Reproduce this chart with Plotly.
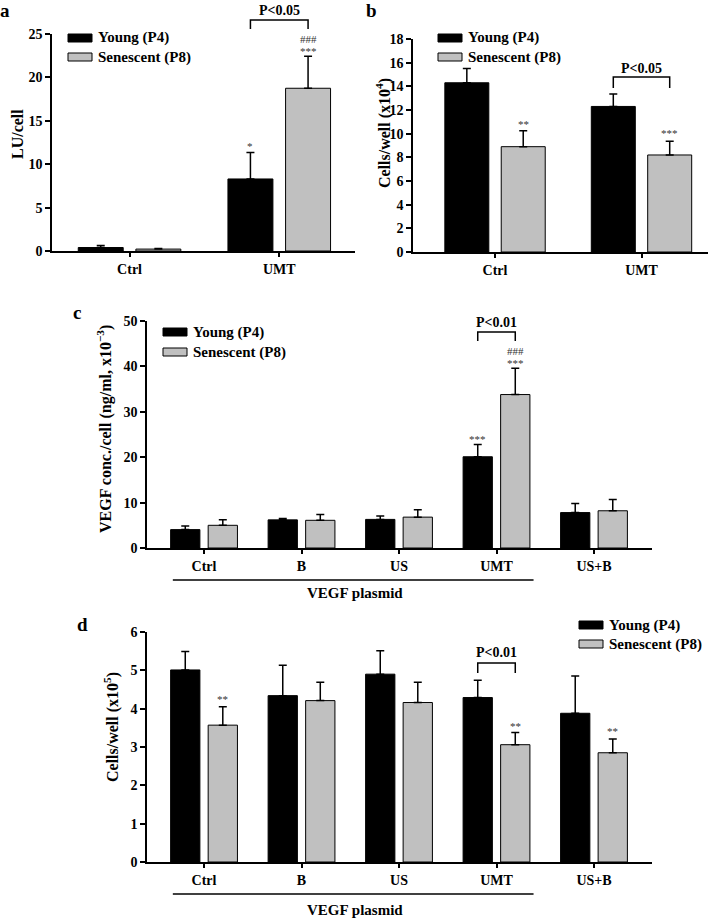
import plotly.graph_objects as go

W, H = 717, 920
FONT = "Liberation Serif, Times New Roman, serif"
GREY = "#c0c0c0"

# ---- dados ----
a_groups = ["Ctrl", "UMT"]
a_young = [0.4, 8.3]
a_young_err = [0.22, 3.05]
a_sen = [0.22, 18.75]
a_sen_err = [0.08, 3.7]

b_groups = ["Ctrl", "UMT"]
b_young = [14.3, 12.3]
b_young_err = [1.2, 1.05]
b_sen = [8.9, 8.2]
b_sen_err = [1.35, 1.15]

c_groups = ["Ctrl", "B", "US", "UMT", "US+B"]
c_young = [4.05, 6.2, 6.3, 20.1, 7.8]
c_young_err = [0.8, 0.3, 0.75, 2.7, 2.0]
c_sen = [5.0, 6.1, 6.8, 33.8, 8.2]
c_sen_err = [1.2, 1.3, 1.65, 5.8, 2.5]

d_groups = ["Ctrl", "B", "US", "UMT", "US+B"]
d_young = [5.01, 4.34, 4.9, 4.29, 3.88]
d_young_err = [0.48, 0.79, 0.61, 0.45, 0.97]
d_sen = [3.57, 4.21, 4.16, 3.06, 2.85]
d_sen_err = [0.48, 0.48, 0.53, 0.32, 0.36]

series_names = ["Young (P4)", "Senescent (P8)"]


def px_x(p):
    return p / W


def px_y(p):
    return 1 - p / H


def texto(txt, x, y, size, xref="paper", yref="paper", bold=True, **kw):
    d = dict(text=txt, x=x, y=y, xref=xref, yref=yref, showarrow=False,
             xanchor="center", yanchor="middle",
             font=dict(family=FONT, size=size, color="black",
                       weight="bold" if bold else "normal"))
    d.update(kw)
    return d


fig = go.Figure()

paineis = [
    ("x", "y", a_groups, a_young, a_young_err, a_sen, a_sen_err),
    ("x2", "y2", b_groups, b_young, b_young_err, b_sen, b_sen_err),
    ("x3", "y3", c_groups, c_young, c_young_err, c_sen, c_sen_err),
    ("x4", "y4", d_groups, d_young, d_young_err, d_sen, d_sen_err),
]

for xa, ya, cats, yv, ye, sv, se in paineis:
    for nome, vals, errs, cor in [(series_names[0], yv, ye, "black"),
                                  (series_names[1], sv, se, GREY)]:
        fig.add_trace(go.Bar(
            x=cats, y=vals, name=nome, xaxis=xa, yaxis=ya, showlegend=False,
            marker=dict(color=cor, line=dict(color="black", width=1)),
            error_y=dict(type="data", array=errs, arrayminus=[0] * len(errs),
                         symmetric=False, color="black", thickness=1.5, width=4),
        ))

# ---- eixos ----
eixo_x = dict(type="category", showline=True, linecolor="black", linewidth=1.5,
              ticks="outside", ticklen=4, tickwidth=1.5, tickcolor="black",
              showgrid=False, zeroline=False, automargin=False,
              tickfont=dict(family=FONT, size=14, color="black", weight="bold"))
eixo_y = dict(showline=True, linecolor="black", linewidth=1.5,
              ticks="outside", ticklen=5, tickwidth=1.5, tickcolor="black",
              showgrid=False, zeroline=False, automargin=False,
              tickfont=dict(family=FONT, size=14, color="black", weight="bold"))

fig.update_layout(
    width=W, height=H, margin=dict(l=0, r=0, t=0, b=0, autoexpand=False),
    paper_bgcolor="white", plot_bgcolor="white",
    barmode="group", bargap=0.23, bargroupgap=0.22,
    xaxis=dict(eixo_x, domain=[px_x(52), px_x(355)], range=[-0.518, 1.506], anchor="y"),
    yaxis=dict(eixo_y, domain=[px_y(251), px_y(34)], range=[0, 25], dtick=5, anchor="x"),
    xaxis2=dict(eixo_x, domain=[px_x(413), px_x(708)], range=[-0.56, 1.454], anchor="y2"),
    yaxis2=dict(eixo_y, domain=[px_y(252), px_y(39)], range=[0, 18], dtick=2, anchor="x2"),
    xaxis3=dict(eixo_x, domain=[px_x(147), px_x(652)], range=[-0.585, 4.595], anchor="y3"),
    yaxis3=dict(eixo_y, domain=[px_y(548), px_y(321)], range=[0, 50], dtick=10, anchor="x3"),
    xaxis4=dict(eixo_x, domain=[px_x(147), px_x(652)], range=[-0.585, 4.595], anchor="y4"),
    yaxis4=dict(eixo_y, domain=[px_y(862), px_y(632)], range=[0, 6], dtick=1, anchor="x4"),
)

anns = []
shapes = []

# letras dos paineis
for txt, x, y in [("a", 5, 10), ("b", 371, 11), ("c", 77, 312), ("d", 82, 624)]:
    anns.append(texto(txt, px_x(x), px_y(y), 19))

# titulos dos eixos y
for txt, x, y in [("LU/cell", 18, 134),
                  ("Cells/well (x10<sup>4</sup>)", 383, 133),
                  ("VEGF conc./cell (ng/ml, x10<sup>\u22123</sup>)", 105, 429),
                  ("Cells/well (x10<sup>5</sup>)", 111, 727)]:
    anns.append(texto(txt, px_x(x), px_y(y), 16, textangle=-90))

# legendas (caixas + texto)
legendas = [(68, 38, 57), (438, 38, 57), (163, 332, 352), (579, 625, 644)]
for x0, y1, y2 in legendas:
    for yy, cor, nome in [(y1, "black", series_names[0]), (y2, GREY, series_names[1])]:
        shapes.append(dict(type="rect", xref="paper", yref="paper",
                           x0=px_x(x0), x1=px_x(x0 + 24), y0=px_y(yy + 4), y1=px_y(yy - 4),
                           fillcolor=cor, line=dict(color="black", width=1)))
        anns.append(texto(nome, px_x(x0 + 28), px_y(yy), 15, xanchor="left"))

# colchetes de significancia
slot = 0.1925
colchetes = [("x", 1, "P<0.05", 20, 29, 11),
             ("x2", 1, "P<0.05", 77, 88, 68),
             ("x3", 3, "P<0.01", 332, 341, 322),
             ("x4", 3, "P<0.01", 663, 673, 652)]
for xa, cat, txt, top, leg, ty in colchetes:
    xl, xr = cat - slot, cat + slot
    shapes.append(dict(type="path", xref=xa, yref="paper",
                       path=f"M {xl},{px_y(leg)} L {xl},{px_y(top)} L {xr},{px_y(top)} L {xr},{px_y(leg)}",
                       line=dict(color="black", width=1.5)))
    anns.append(texto(txt, cat, px_y(ty), 14, xref=xa))

# asteriscos / cerquilhas
estrelas = [
    ("x", "y", 1, 0, "*", a_young, a_young_err, 6),
    ("x", "y", 1, 1, "***", a_sen, a_sen_err, 5),
    ("x", "y", 1, 1, "###", a_sen, a_sen_err, 17),
    ("x2", "y2", 0, 1, "**", b_sen, b_sen_err, 7),
    ("x2", "y2", 1, 1, "***", b_sen, b_sen_err, 8),
    ("x3", "y3", 3, 0, "***", c_young, c_young_err, 5),
    ("x3", "y3", 3, 1, "***", c_sen, c_sen_err, 5),
    ("x3", "y3", 3, 1, "###", c_sen, c_sen_err, 17),
    ("x4", "y4", 0, 1, "**", d_sen, d_sen_err, 8),
    ("x4", "y4", 3, 1, "**", d_sen, d_sen_err, 6),
    ("x4", "y4", 4, 1, "**", d_sen, d_sen_err, 8),
]
for xa, ya, cat, s, txt, vals, errs, sh in estrelas:
    xpos = cat - slot if s == 0 else cat + slot
    a = texto(txt, xpos, vals[cat] + errs[cat], 11, xref=xa, yref=ya, bold=False, yshift=sh)
    a["font"]["color"] = "#333333"
    anns.append(a)

# "VEGF plasmid" com sublinhado
for xa, yl, yt in [("x3", 580, 593), ("x4", 894, 910)]:
    shapes.append(dict(type="line", xref=xa, yref="paper", x0=-0.32, x1=3.38,
                       y0=px_y(yl), y1=px_y(yl), line=dict(color="black", width=1.5)))
    anns.append(texto("VEGF plasmid", 1.55, px_y(yt), 15, xref=xa))

fig.update_layout(annotations=anns, shapes=shapes)

# tira a margem padrao do <body> para a figura ocupar a janela toda
fig.write_html("out.html", config={"displayModeBar": False},
               post_script="document.body.style.margin='0';")
